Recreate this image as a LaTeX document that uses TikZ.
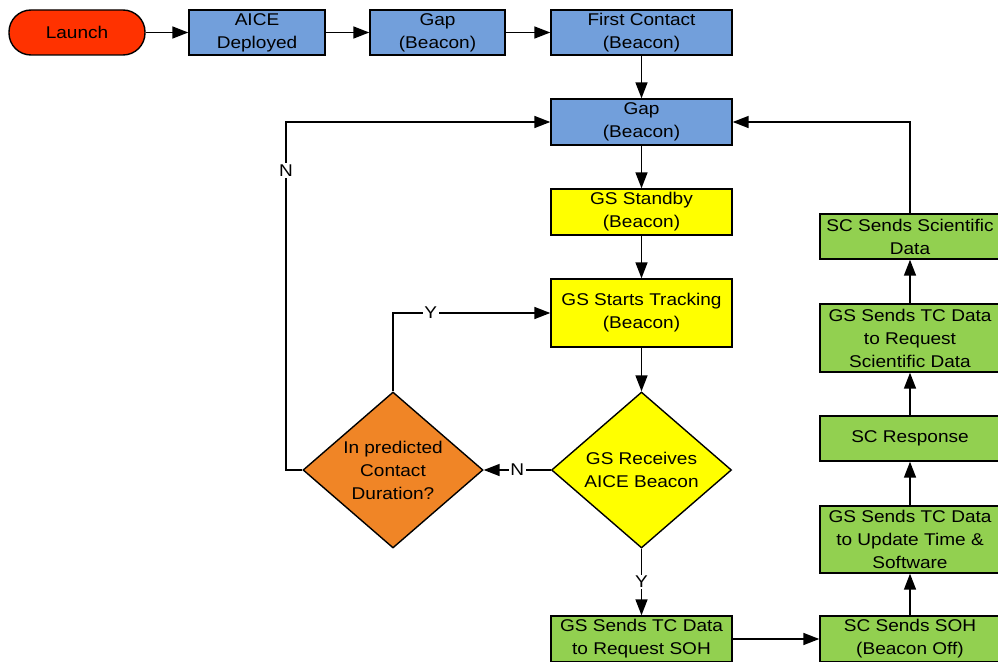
\documentclass[tikz,border=0pt]{standalone}
\usepackage{fontspec}
\setmainfont{Liberation Sans}[FakeStretch=1.12]
\usetikzlibrary{shapes.geometric,arrows.meta}

\definecolor{launchred}{RGB}{255,50,0}
\definecolor{stepblue}{RGB}{114,159,219}
\definecolor{stepyellow}{RGB}{255,255,0}
\definecolor{decorange}{RGB}{240,133,38}
\definecolor{stepgreen}{RGB}{146,208,80}

\begin{document}
\begin{tikzpicture}[x=1pt,y=-1pt,
  every node/.style={font=\fontsize{17}{23}\selectfont, align=center, text=black},
  box/.style={draw=black, line width=1.4pt, inner sep=0pt, minimum width=181pt, minimum height=46pt},
  bluebox/.style={box, fill=stepblue},
  yellowbox/.style={box, fill=stepyellow},
  greenbox/.style={box, fill=stepgreen, minimum width=180pt},
  decision/.style={diamond, draw=black, line width=1.4pt, inner sep=0pt, aspect=1.154,
                   minimum width=180pt, minimum height=156pt},
  flow/.style={draw=black, line width=1.6pt, -{Triangle[length=16pt,width=12pt]}},
  lbl/.style={fill=white, inner sep=1.5pt}
]
\clip (0,0) rectangle (998,661);

% top row
\node[box, fill=launchred, rounded corners=22pt, minimum width=136pt, minimum height=45pt]
  (launch) at (77,32.5) {Launch};
\node[bluebox, minimum width=136pt, minimum height=45pt] (deploy) at (257,32.5) {AICE\\Deployed};
\node[bluebox, minimum width=135pt, minimum height=45pt] (gapa) at (437.5,32.5) {Gap\\(Beacon)};
\node[bluebox, minimum height=45pt] (first) at (641.5,32.5) {First Contact\\(Beacon)};

% central column
\node[bluebox] (gapb) at (641.5,122) {Gap\\(Beacon)};
\node[yellowbox] (standby) at (641.5,212) {GS Standby\\(Beacon)};
\node[yellowbox, minimum height=68pt] (track) at (641.5,313) {GS Starts Tracking\\(Beacon)};
\node[decision, fill=stepyellow] (recv) at (641.5,470) {GS Receives\\AICE Beacon};
\node[decision, fill=decorange] (pred) at (393,470) {In predicted\\Contact\\Duration?};
\node[greenbox, minimum width=181pt] (reqsoh) at (641.5,639) {GS Sends TC Data\\to Request SOH};

% right column
\node[greenbox] (soh) at (910,639) {SC Sends SOH\\(Beacon Off)};
\node[greenbox, minimum height=67pt] (upd) at (910,539.5) {GS Sends TC Data\\to Update Time \&\\Software};
\node[greenbox, minimum height=45pt] (resp) at (910,438.5) {SC Response};
\node[greenbox, minimum height=68pt] (reqsci) at (910,338) {GS Sends TC Data\\to Request\\Scientific Data};
\node[greenbox, minimum height=45pt] (sci) at (910,236.5) {SC Sends Scientific\\Data};

\coordinate (nloop) at (286,122);

% connectors
\draw[flow] (launch) -- (deploy);
\draw[flow] (deploy) -- (gapa);
\draw[flow] (gapa) -- (first);
\draw[flow] (first) -- (gapb);
\draw[flow] (gapb) -- (standby);
\draw[flow] (standby) -- (track);
\draw[flow] (track) -- (recv);
\draw[flow] (recv) -- node[lbl]{N} (pred);
\draw[flow] (recv) -- node[lbl]{Y} (reqsoh);
\draw[flow] (pred.north) |- node[lbl, pos=0.62]{Y} (track.west);
\draw[flow] (pred.west) -| node[lbl, pos=0.93]{N} (nloop) -- (gapb.west);
\draw[flow] (reqsoh) -- (soh);
\draw[flow] (soh) -- (upd);
\draw[flow] (upd) -- (resp);
\draw[flow] (resp) -- (reqsci);
\draw[flow] (reqsci) -- (sci);
\draw[flow] (sci.north) |- (gapb.east);
\end{tikzpicture}
\end{document}
